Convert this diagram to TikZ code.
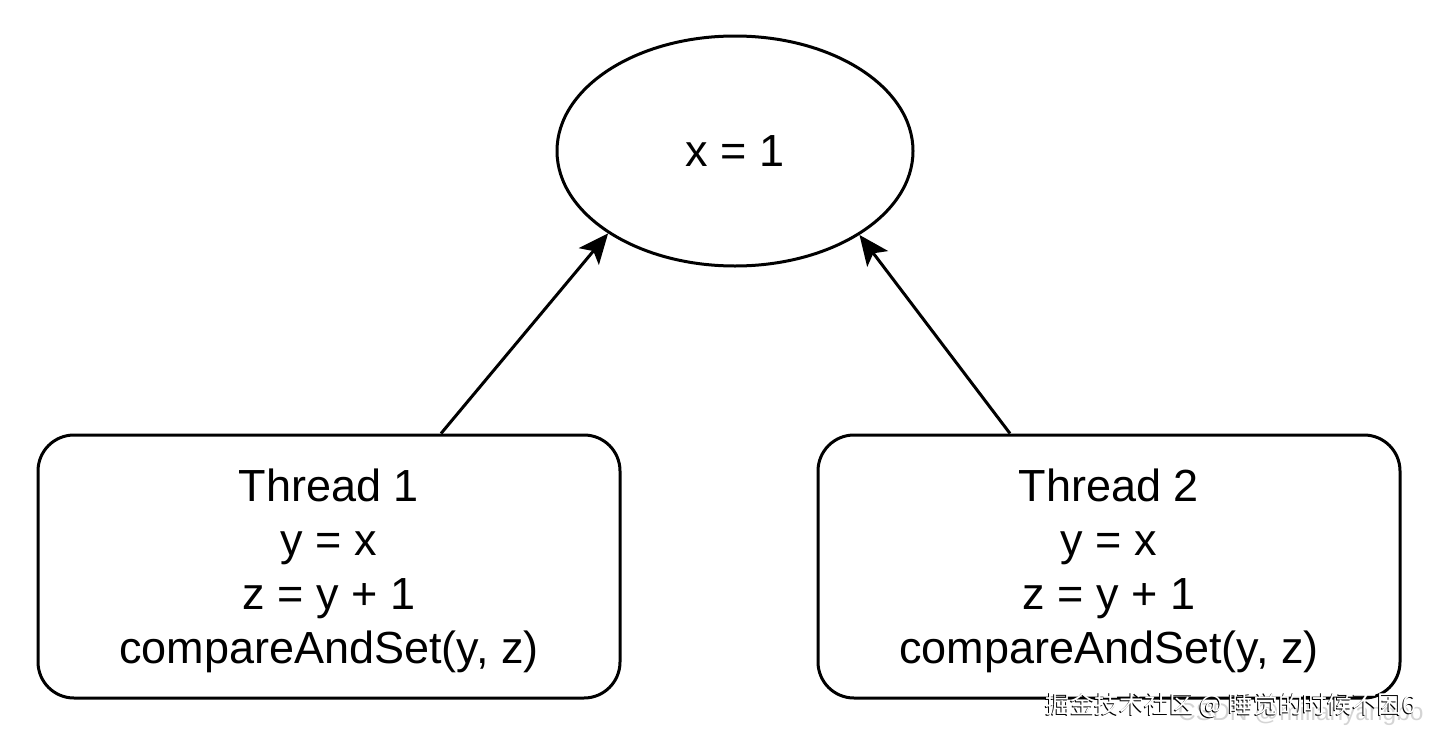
\documentclass[tikz,border=0pt]{standalone}
\usepackage{fontspec}
\setmainfont{Liberation Sans}
\newfontfamily\cjk{Noto Sans CJK SC}
\usetikzlibrary{shapes.geometric,arrows.meta,calc}
\newcommand{\topstrut}{\rule{0pt}{41pt}}
\tikzset{
  base/.style={draw=black, line width=3pt, fill=white, inner sep=0pt, align=center,
    font=\fontsize{45}{54}\selectfont},
  valnode/.style={base, ellipse, minimum width=356pt, minimum height=230pt},
  threadbox/.style={base, rectangle, rounded corners=36pt, minimum width=582pt, minimum height=263pt},
  arr/.style={draw=black, line width=3pt, -{Stealth[length=30pt,width=26pt,inset=7pt]}},
  wmshadow/.style={inner sep=0pt, anchor=west, text=black, font=\cjk\fontsize{24.8}{24.8}\selectfont},
  wmtext/.style={inner sep=0pt, anchor=west, text=white, font=\cjk\fontsize{24.8}{24.8}\selectfont},
  wmgray/.style={inner sep=0pt, anchor=west, text=black!17, font=\fontsize{24.5}{24.5}\selectfont}
}
\begin{document}
\begin{tikzpicture}[x=1pt,y=-1pt]
\useasboundingbox (0,0) rectangle (1440,739);
\node[valnode] (x1) at (735,151) {x = 1};
\node[threadbox] (t1) at (329,566.5) {\topstrut Thread 1\\y = x\\z = y + 1\\compareAndSet(y, z)};
\node[threadbox] (t2) at (1109,566.5) {\topstrut Thread 2\\y = x\\z = y + 1\\compareAndSet(y, z)};
\draw[arr] ($(t1.north)+(112,0)$) -- (x1.213);
\draw[arr] ($(t2.north)+(-99,0)$) -- (x1.326);
\node[wmgray] (csdn) at (1178,714) {CSDN @milianyangbo};
\node[wmshadow] (wms) at (1044,706) {掘金技术社区 @ 睡觉的时候不困6};
\node[wmtext] (wm) at (1045,705) {掘金技术社区 @ 睡觉的时候不困6};
\end{tikzpicture}
\end{document}
